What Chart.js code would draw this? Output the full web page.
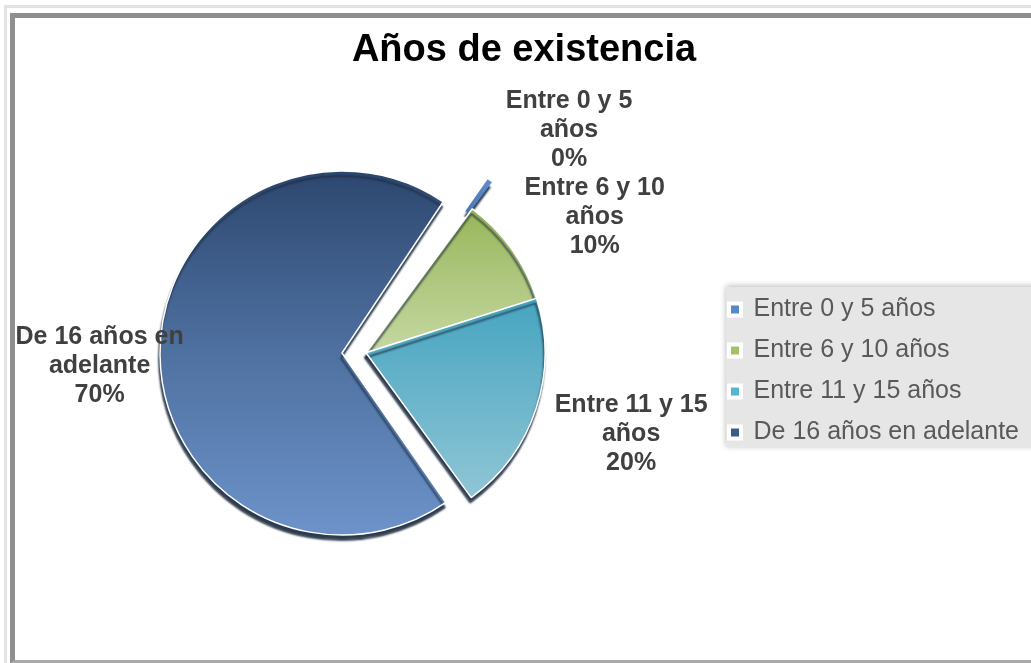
<!DOCTYPE html>
<html>
<head>
<meta charset="utf-8">
<script src="https://cdn.jsdelivr.net/npm/chart.js@4.4.1/dist/chart.umd.min.js"></script>
<style>
  html, body { margin: 0; padding: 0; background: #fff; }
  #wrap { position: relative; width: 1031px; height: 663px; overflow: hidden; }
  .frame-outer { position: absolute; left: 4px; top: 5px; width: 1200px; height: 700px;
                 border-left: 3px solid #e3e3e3; border-top: 3px solid #e3e3e3; }
  .frame { position: absolute; left: 10px; top: 13px; width: 1200px; height: 642px;
           border-left: 5px solid #8f8f8f; border-top: 5px solid #8f8f8f; border-bottom: 3px solid #a9a9a9; }
  canvas { position: absolute; left: 0; top: 0; }
</style>
</head>
<body>
<div id="wrap">
  <div class="frame-outer"></div>
  <div class="frame"></div>
  <canvas id="chart" width="1031" height="663"></canvas>
</div>
<script>
// Antigüedad de las empresas encuestadas (porcentaje)
const categories = ['Entre 0 y 5 años', 'Entre 6 y 10 años', 'Entre 11 y 15 años', 'De 16 años en adelante'];
const shares = [0.4, 10, 20, 70];

// Estilo de cada sector
const PIE_RADIUS = 179;
const sliceOffsets = [0, 0, 0, 96];
// radio dibujado de cada sector = PIE_RADIUS + extra (aunque esté desplazado)
const sliceRadiusExtra = [33, 0, 0, 3];
const sliceBorders = [0, 1.5, 1.5, 1.5];
const legendColors = ['#5a87c5', '#a4c267', '#55b6cf', '#3b5d8c'];
const sliceGradients = [
  [[0, 'rgba(74,120,182,0)'], [0.81, 'rgba(74,120,182,0)'], [0.82, '#4a78b6'], [1, '#5f8dcb']],
  [[0, '#8cae48'], [0.5, '#c6d8a3'], [1, '#c6d8a3']],
  [[0, '#3f9fbc'], [0.34, '#45a4c0'], [0.93, '#93c7d6'], [1, '#93c7d6']],
  [[0, '#2d4870'], [0.5, '#4f71a1'], [1, '#6c92c9']]
];
// Colocación de las etiquetas: distancia relativa al radio y giro en grados
const labelReach = [1.685, 1.485, 1.55, 1.49];
const labelTurn = [6.6, 5.0, -1.0, -2.3];

function pieGradient(c) {
  const chart = c.chart;
  const area = chart.chartArea;
  const i = c.dataIndex;
  const stops = sliceGradients[i];
  if (!area) return stops[stops.length - 1][1];
  const cx = (area.left + area.right) / 2;
  const cy = (area.top + area.bottom) / 2;
  let g;
  if (i === 0) {
    // la franja mínima sólo asoma por fuera del borde
    g = chart.ctx.createRadialGradient(cx, cy, 0, cx, cy, PIE_RADIUS + sliceRadiusExtra[0]);
  } else {
    g = chart.ctx.createLinearGradient(0, cy - PIE_RADIUS, 0, cy + PIE_RADIUS);
  }
  stops.forEach(([p, col]) => g.addColorStop(p, col));
  return g;
}

function wrapText(ctx, text, maxWidth) {
  const words = text.split(' ');
  const lines = [];
  let line = '';
  words.forEach(w => {
    const test = line ? line + ' ' + w : w;
    if (line && ctx.measureText(test).width > maxWidth) {
      lines.push(line);
      line = w;
    } else {
      line = test;
    }
  });
  if (line) lines.push(line);
  return lines;
}

const depthAndLabels = {
  id: 'depthAndLabels',
  afterDatasetUpdate(chart, args) {
    // un sector desplazado crece con su desplazamiento; se compensa aquí
    args.meta.data.forEach((el, i) => {
      const shift = (el.options.offset || 0) / 4;
      const grow = shift * (1 - Math.sin(Math.min(Math.PI, el.circumference || 0)));
      el.outerRadius = PIE_RADIUS + sliceRadiusExtra[i] - grow;
    });
  },
  beforeDraw(chart) {
    // fondo gris de la leyenda
    const hb = chart.legend && chart.legend.legendHitBoxes;
    if (!hb || !hb.length) return;
    const ctx = chart.ctx;
    const first = hb[0], last = hb[hb.length - 1];
    const x = first.left - 3;
    const y = first.top - 10;
    const h = last.top + last.height + 2 - y;
    ctx.save();
    ctx.shadowColor = 'rgba(0,0,0,0.28)';
    ctx.shadowBlur = 6;
    ctx.shadowOffsetY = -1;
    ctx.fillStyle = '#e6e6e6';
    ctx.fillRect(x, y, chart.width - x + 10, h);
    ctx.restore();
  },
  beforeDatasetsDraw(chart) {
    const ctx = chart.ctx;
    ctx.save();
    ctx.shadowColor = 'rgba(28,42,62,0.92)';
    ctx.shadowOffsetX = -1;
    ctx.shadowOffsetY = 5;
    ctx.shadowBlur = 2;
  },
  afterDatasetsDraw(chart) {
    const ctx = chart.ctx;
    ctx.restore();
    const meta = chart.getDatasetMeta(0);
    const data = chart.data.datasets[0].data;
    const total = data.reduce((a, b) => a + b, 0);
    ctx.save();
    ctx.font = 'bold 25px "Liberation Sans", Arial, sans-serif';
    ctx.fillStyle = '#404040';
    ctx.textAlign = 'center';
    ctx.textBaseline = 'middle';
    meta.data.forEach((el, i) => {
      const mid = (el.startAngle + el.endAngle) / 2 + labelTurn[i] * Math.PI / 180;
      const dist = PIE_RADIUS * labelReach[i];
      const cx = el.x + Math.cos(mid) * dist;
      const cy = el.y + Math.sin(mid) * dist;
      const lines = wrapText(ctx, chart.data.labels[i], 176);
      lines.push(Math.round(data[i] / total * 100) + '%');
      const lh = 29;
      const y0 = cy - (lines.length - 1) * lh / 2;
      lines.forEach((t, k) => ctx.fillText(t, cx, y0 + k * lh));
    });
    ctx.restore();
  }
};

new Chart(document.getElementById('chart'), {
  type: 'pie',
  data: {
    labels: categories,
    datasets: [{
      data: shares,
      backgroundColor: pieGradient,
      borderColor: '#ffffff',
      borderWidth: sliceBorders,
      offset: sliceOffsets
    }]
  },
  options: {
    responsive: false,
    animation: false,
    rotation: 35,
    radius: PIE_RADIUS,
    layout: { padding: { left: 19, right: 2, top: 0, bottom: 41 } },
    plugins: {
      tooltip: { enabled: false },
      title: {
        display: true,
        text: 'Años de existencia',
        color: '#000000',
        font: { family: '"Liberation Sans", Arial, sans-serif', size: 38, weight: 'bold' },
        padding: { top: 28, bottom: 10 }
      },
      legend: {
        position: 'right',
        align: 'center',
        title: { display: true, text: ' ', font: { size: 10 }, padding: 54 },
        labels: {
          color: '#595959',
          font: { family: '"Liberation Sans", Arial, sans-serif', size: 25 },
          boxWidth: 12,
          boxHeight: 12,
          padding: 16,
          generateLabels(chart) {
            return chart.data.labels.map((t, i) => ({
              text: t,
              fillStyle: legendColors[i],
              strokeStyle: '#ffffff',
              lineWidth: 4,
              fontColor: '#595959',
              index: i,
              hidden: false
            }));
          }
        }
      }
    }
  },
  plugins: [depthAndLabels]
});
</script>
</body>
</html>
